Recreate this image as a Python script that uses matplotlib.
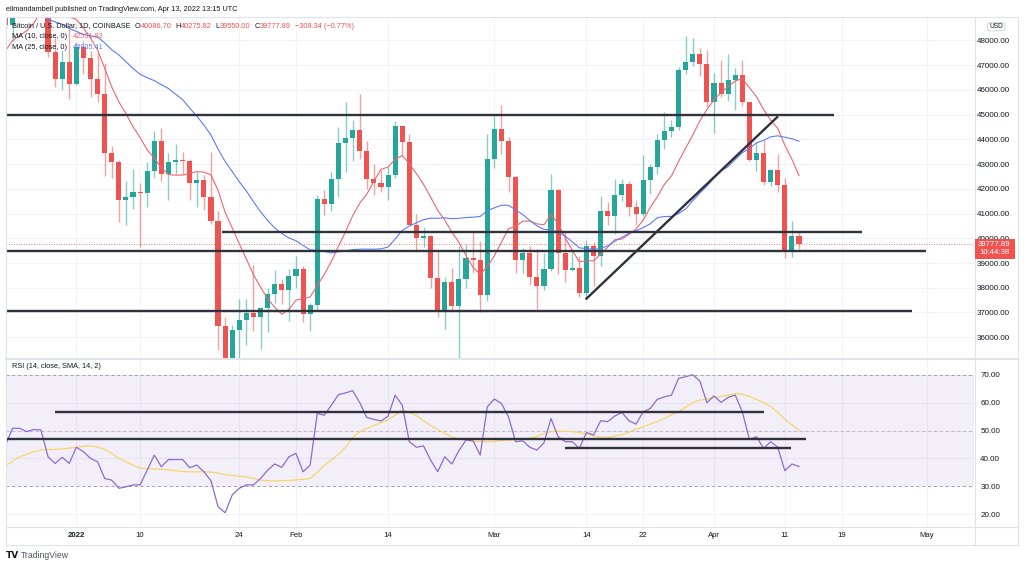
import numpy as np
import pandas as pd
import matplotlib
matplotlib.use("Agg")
import matplotlib.pyplot as plt
import matplotlib.dates as mdates
from matplotlib.lines import Line2D
from matplotlib.patches import Rectangle, FancyBboxPatch

plt.rcParams['font.family'] = ['Liberation Sans', 'DejaVu Sans']

# BTC / USD daily candles, Coinbase, 2021-12-22 .. 2022-04-13
first_day = "2021-12-22"

# closes of the days before the first visible candle (only feed the moving averages)
prior_closes = [57280, 57800, 56980, 57230, 56510, 53730, 49250, 49400, 50580, 50600,
                50500, 47660, 47140, 49390, 50110, 46730, 48380, 48880, 47650, 46200,
                46880, 46700, 46910, 48930]

opens = [48937, 48628, 50820, 50430, 50800, 50710, 50700, 47540, 46460, 47130,
         46220, 47730, 47300, 46450, 45830, 43430, 43080, 41560, 41680, 41860,
         41830, 42740, 43920, 42590, 43100, 43180, 43110, 42250, 42370, 41680,
         40700, 36460, 35060, 36280, 36690, 36960, 36830, 37180, 37730, 38170, 37920,
         38490, 38740, 36950, 37320, 41570, 41400, 42410, 43840, 44040, 44380,
         43550, 42390, 42220, 42070, 42540, 44560, 43880, 40540, 40000, 40100,
         38380, 37020, 38250, 37270, 38340, 39220, 39110, 37700,
         43190, 44430, 43920, 42460, 39140, 39400, 38420, 38060, 38740, 41940,
         39420, 38730, 38810, 37790, 39670, 39280, 41110, 40920, 41770, 42200,
         41260, 41000, 42360, 42890, 43960, 44330, 44520, 46820, 47130, 47440, 47060,
         45530, 46290, 45820, 46420, 46600, 45500, 43170, 43450, 42270, 42760,
         42160, 39530, 40087]
highs = [49576, 51375, 51870, 51190, 51280, 52100, 50700, 48140, 47600, 48470,
         47950, 47990, 47570, 47500, 47070, 43750, 43150, 42300, 42790, 42250,
         43100, 44350, 44450, 43450, 43800, 43500, 43200, 42700, 42560, 43500,
         41100, 36830, 36480, 37550, 37550, 38920, 37240, 38000, 38700, 38350, 38740,
         39270, 38860, 37400, 41770, 41960, 42700, 44500, 45500, 44800, 45820,
         43950, 43000, 42750, 42900, 44750, 44600, 44200, 40970, 40450, 40150,
         39500, 38450, 38800, 39700, 39750, 40300, 39880, 44230,
         44950, 45400, 44100, 42530, 39600, 39680, 39550, 39400, 42600, 42000,
         40250, 39500, 39300, 39950, 39870, 41700, 41460, 42400, 42400, 42300,
         41550, 43360, 43000, 44200, 45100, 44800, 46920, 48200, 48100, 47700, 47600,
         46700, 47200, 47450, 46880, 47200, 45500, 43900, 43960, 42800, 43420,
         42450, 40700, 40276]
lows = [48450, 47960, 50420, 50200, 49460, 50480, 47330, 46100, 45980, 45650,
        46200, 46650, 45700, 45500, 42500, 42450, 40650, 40520, 41200, 39650,
        41280, 42450, 42310, 41560, 42600, 42600, 41550, 41280, 41150, 40560,
        35500, 34010, 34620, 32930, 35700, 36270, 35520, 36200, 37400, 37350, 36660,
        38000, 36600, 36250, 37050, 40960, 41100, 41680, 42700, 43130, 43200,
        42000, 41750, 41880, 41560, 42450, 43330, 43880, 39440, 39640, 38000,
        36800, 36330, 37030, 34320, 38000, 38600, 37010, 37460,
        42850, 43400, 41870, 38600, 38580, 38100, 37160, 37900, 38680, 38560,
        38250, 38670, 37610, 37570, 38090, 38900, 40540, 40190, 41500, 40920,
        40520, 40900, 41810, 42600, 43620, 44100, 44400, 46650, 46950, 46550, 45300,
        44240, 45700, 45550, 45170, 45360, 43120, 42740, 42150, 42120, 41880,
        39200, 39240, 39550]
closes = [48628, 50820, 50430, 50800, 50710, 50700, 47540, 46460, 47130, 46220,
          47730, 47300, 46450, 45830, 43430, 43080, 41560, 41680, 41860, 41830,
          42740, 43920, 42590, 43100, 43180, 43110, 42250, 42370, 41680, 40700,
          36460, 35060, 36280, 36690, 36960, 36830, 37180, 37730, 38170, 37920, 38490,
          38740, 36950, 37320, 41570, 41400, 42410, 43840, 44040, 44380, 43550,
          42390, 42220, 42070, 42540, 44560, 43880, 40540, 40000, 40100, 38380,
          37020, 38250, 37270, 38340, 39220, 39110, 37700, 43190,
          44430, 43920, 42460, 39140, 39400, 38420, 38060, 38740, 41940, 39420,
          38730, 38810, 37790, 39670, 39280, 41110, 40920, 41770, 42200, 41260,
          41000, 42360, 42890, 43960, 44330, 44520, 46820, 47130, 47440, 47060, 45530,
          46290, 45820, 46420, 46600, 45500, 43170, 43450, 42270, 42760, 42160,
          39530, 40090, 39778]

rsi = [44.8, 50.8, 50.8, 49.6, 50.4, 50.2, 40.6, 38.2, 40.4, 38.2,
       44.0, 42.4, 40.0, 38.8, 32.8, 32.2, 29.3, 29.8, 30.5, 30.5,
       35.8, 41.2, 37.0, 39.6, 39.6, 39.6, 36.7, 37.6, 35.2, 32.0,
       22.7, 20.5, 26.9, 29.3, 30.5, 30.5, 32.8, 35.8, 38.0, 36.8, 40.6,
       41.8, 35.2, 37.6, 56.1, 55.5, 59.1, 62.9, 63.5, 64.3, 60.0,
       54.7, 54.0, 53.4, 55.2, 62.7, 59.1, 46.0, 44.0, 44.5, 39.4,
       35.2, 40.6, 38.0, 42.8, 46.6, 46.3, 41.2, 58.5,
       61.3, 59.7, 54.9, 46.0, 46.3, 44.0, 43.0, 45.6, 54.3, 47.8,
       46.0, 46.0, 43.6, 49.3, 48.4, 53.5, 53.2, 55.2, 56.5, 53.5,
       52.3, 56.7, 57.9, 61.2, 62.1, 62.7, 68.7, 69.3, 70.0, 67.8, 60.0,
       62.4, 60.1, 61.9, 62.7, 56.7, 46.8, 47.8, 43.6, 46.0, 44.0,
       35.6, 38.0, 37.1]
rsi_ma = [37.3, 39.0, 40.6, 41.5, 42.4, 43.0, 43.2, 43.2, 43.4, 43.7,
          44.0, 44.3, 44.5, 44.1, 43.2, 41.8, 40.0, 38.8, 37.6, 36.5,
          36.4, 36.2, 36.1, 35.9, 35.6, 35.3, 35.2, 35.2, 35.2, 35.1,
          34.7, 34.1, 33.9, 33.6, 33.4, 32.8, 32.2, 32.0, 31.9, 32.0, 32.1,
          32.3, 32.5, 32.8, 35.0, 37.5, 39.5, 41.5, 44.0, 47.5, 49.5,
          50.8, 51.8, 52.8, 53.8, 55.5, 57.4, 56.5, 55.3, 53.5, 51.8,
          50.4, 49.0, 47.8, 47.0, 46.6, 46.1, 46.0, 46.0,
          46.1, 46.4, 46.6, 46.7, 46.9, 47.2, 48.0, 48.9, 49.6, 49.7,
          49.7, 49.6, 49.3, 48.7, 48.1, 47.7, 47.5, 48.0, 48.6, 49.4,
          50.5, 51.3, 52.3, 53.2, 54.4, 55.6, 56.8, 58.4, 60.0, 60.9, 61.3,
          61.8, 62.2, 62.7, 63.2, 63.0, 62.2, 61.2, 60.0, 58.6, 56.5,
          54.0, 52.0, 50.1]

# hand drawn lines on the chart
h_levels = [45000, 40275, 39480, 37080]
h_starts = ["2021-12-10", "2022-01-21 13:00", "2021-12-10", "2021-12-10"]
h_ends = ["2022-04-18", "2022-04-21 22:00", "2022-04-30 22:00", "2022-04-29"]
trend_dates = ["2022-03-14", "2022-04-09 22:00"]
trend_prices = [37560, 44900]
rsi_levels = [56.7, 46.85, 43.6]
rsi_starts = ["2021-12-29", "2021-12-10", "2022-03-11"]
rsi_ends = ["2022-04-08", "2022-04-14", "2022-04-11 22:00"]

tick_dates = ["2022-01-01", "2022-01-10", "2022-01-24", "2022-02-01", "2022-02-14",
              "2022-03-01", "2022-03-14", "2022-03-22", "2022-04-01", "2022-04-11",
              "2022-04-19", "2022-05-01"]
tick_labels = ["2022", "10", "24", "Feb", "14", "Mar", "14", "22", "Apr", "11", "19", "May"]
price_ticks = list(range(36000, 48001, 1000))
rsi_ticks = [20, 30, 40, 50, 60, 70]

last_price = 39777.89

UP = '#26a69a'
DOWN = '#ef5350'
TXT = '#131722'
GRID = '#f0f3fa'
BORDER = '#e0e3eb'
DRAW = '#2f323c'

W, H = 1024, 567
fig = plt.figure(figsize=(W / 100, H / 100), dpi=100)
fig.patch.set_facecolor('white')


def box(x0, y0, x1, y1):
    return [x0 / W, 1 - y1 / H, (x1 - x0) / W, (y1 - y0) / H]


def to_num(seq):
    return mdates.date2num([pd.Timestamp(v) for v in seq])


ax = fig.add_axes(box(6, 16.5, 974, 358.5))
ax2 = fig.add_axes(box(6, 360, 974, 527), sharex=ax)

dates = pd.date_range(first_day, periods=len(closes), freq="D")
x = mdates.date2num(dates)
o = np.array(opens, float)
h = np.array(highs, float)
l = np.array(lows, float)
c = np.array(closes, float)
col = np.where(c >= o, UP, DOWN)

# price pane
ax.vlines(x, l, h, colors=col, lw=1.0, alpha=0.55, zorder=3)
ax.bar(x, np.maximum(np.abs(c - o), 45), bottom=np.minimum(o, c), width=0.72,
       color=col, lw=0, zorder=4)

all_close = pd.Series(prior_closes + closes, dtype=float)
ma10 = all_close.rolling(10).mean().iloc[len(prior_closes):].values
ma25 = all_close.rolling(25).mean().iloc[len(prior_closes):].values
ax.plot(x, ma10, color='#f0646e', lw=0.8, zorder=5)
ax.plot(x, ma25, color='#5b7df5', lw=0.8, zorder=5)

ax.axhline(last_price, color=DOWN, lw=0.6, ls=(0, (1, 2)), zorder=2)

for lev, s, e in zip(h_levels, h_starts, h_ends):
    ax.plot(to_num([s, e]), [lev, lev], color=DRAW, lw=1.7, zorder=6,
            solid_capstyle='butt')
ax.plot(to_num(trend_dates), trend_prices, color=DRAW, lw=1.7, zorder=6)

ax.set_ylim(35139, 48970)
ax.set_yticks(price_ticks)
ax.set_yticklabels([f"{v:.2f}" for v in price_ticks])

# RSI pane
ax2.axhspan(30, 70, color='#7e57c2', alpha=0.09, lw=0, zorder=1)
for lev, a in [(70, 0.9), (50, 0.55), (30, 0.9)]:
    ax2.axhline(lev, color='#9598a1', lw=0.7, ls=(0, (3, 3)), alpha=a, zorder=2)
ax2.plot(x, rsi_ma, color='#f7d56a', lw=0.9, zorder=4)
ax2.plot(x, rsi, color='#8d6ad0', lw=0.9, zorder=5)
for lev, s, e in zip(rsi_levels, rsi_starts, rsi_ends):
    ax2.plot(to_num([s, e]), [lev, lev], color=DRAW, lw=1.7, zorder=6,
             solid_capstyle='butt')
ax2.set_ylim(15.4, 75.3)
ax2.set_yticks(rsi_ticks)
ax2.set_yticklabels([f"{v:.2f}" for v in rsi_ticks])

jan1 = mdates.date2num(pd.Timestamp("2022-01-01"))
ax.set_xlim(jan1 - 9.93, jan1 + 126.7)
ax2.set_xticks(to_num(tick_dates))
ax2.set_xticklabels(tick_labels)
ax2.get_xticklabels()[0].set_fontweight('bold')

for a in (ax, ax2):
    for sp in a.spines.values():
        sp.set_visible(False)
    a.yaxis.tick_right()
    a.grid(True, color=GRID, lw=0.8, zorder=0)
    a.set_axisbelow(True)
    a.tick_params(axis='both', length=0, labelsize=5.8, labelcolor=TXT)
ax.tick_params(axis='y', pad=2)
ax2.tick_params(axis='y', pad=4.5)
ax.tick_params(axis='x', labelbottom=False)
ax2.tick_params(axis='x', pad=3.6, labelsize=5.6)


# frame of the widget
def hline(y, x0, x1, color=BORDER, lw=0.8):
    fig.add_artist(Line2D([x0 / W, x1 / W], [1 - y / H, 1 - y / H], color=color, lw=lw))


def vline(xp, y0, y1, color=BORDER, lw=0.8):
    fig.add_artist(Line2D([xp / W, xp / W], [1 - y0 / H, 1 - y1 / H], color=color, lw=lw))


hline(16.5, 6, 1018)
hline(545, 6, 1018)
hline(527, 6, 1018)
hline(359.2, 6, 1018, lw=1.4)
vline(6, 16.5, 545)
vline(1018, 16.5, 545)
vline(974.5, 16.5, 545)

# last price tag
fig.add_artist(Rectangle((974.5 / W, 1 - 258.5 / H), 40 / W, 19.5 / H,
                         facecolor=DOWN, edgecolor='none', zorder=10))
fig.text(994.5 / W, 1 - 244.3 / H, "39777.89", color='white', fontsize=5.6,
         ha='center', va='center', zorder=11)
fig.text(994.5 / W, 1 - 252.6 / H, "10:44:38", color='white', fontsize=5.6,
         ha='center', va='center', zorder=11)

# currency badge
fig.add_artist(FancyBboxPatch((987.5 / W, 1 - 30.8 / H), 17.5 / W, 8 / H,
                              boxstyle="round,pad=0,rounding_size=0.003",
                              facecolor='white', edgecolor='#c9cbd1', lw=0.6, zorder=10))
fig.text(996.2 / W, 1 - 26.8 / H, "USD", color=TXT, fontsize=4.8,
         ha='center', va='center', zorder=11)

# header
fig.text(6 / W, 1 - 9.5 / H, "elimandambell published on TradingView.com, Apr 13, 2022 13:15 UTC",
         color=TXT, fontsize=5.3, ha='left', va='center')


def legend_row(xp, yp, pieces, size=5.3):
    t = None
    for s, color, gap in pieces:
        if t is None:
            t = fig.text(xp / W, 1 - yp / H, s, color=color, fontsize=size,
                         ha='left', va='center', zorder=12)
        else:
            t = ax.annotate(s, xy=(1, 0.5), xycoords=t, xytext=(gap, 0),
                            textcoords='offset points', color=color, fontsize=size,
                            ha='left', va='center', annotation_clip=False, zorder=12)


legend_row(12, 26, [("Bitcoin / U.S. Dollar, 1D, COINBASE", TXT, 0),
                    ("O", TXT, 3), ("40086.70", DOWN, 0),
                    ("H", TXT, 3), ("40275.82", DOWN, 0),
                    ("L", TXT, 3), ("39550.00", DOWN, 0),
                    ("C", TXT, 3), ("39777.89", DOWN, 0),
                    ("\u2212308.34 (\u22120.77%)", DOWN, 3)])
legend_row(12, 36.8, [("MA (10, close, 0)", TXT, 0), ("42531.83", '#f0646e', 4)])
legend_row(12, 47.3, [("MA (25, close, 0)", TXT, 0), ("43935.41", '#5b7df5', 4)])
legend_row(12, 367, [("RSI (14, close, SMA, 14, 2)", TXT, 0), ("37.09", '#8d6ad0', 4),
                     ("50.13", '#f2c230', 4), ("n/a", '#787b86', 4), ("n/a", '#787b86', 4)])

# footer logo
fig.text(6 / W, 1 - 556 / H, "TV", color=TXT, fontsize=6.5, fontweight='bold',
         ha='left', va='center', family=['DejaVu Sans'])
fig.text(20.5 / W, 1 - 556 / H, "TradingView", color='#50535e', fontsize=6.2,
         ha='left', va='center')

fig.savefig("out.png", dpi=100, facecolor='white')
